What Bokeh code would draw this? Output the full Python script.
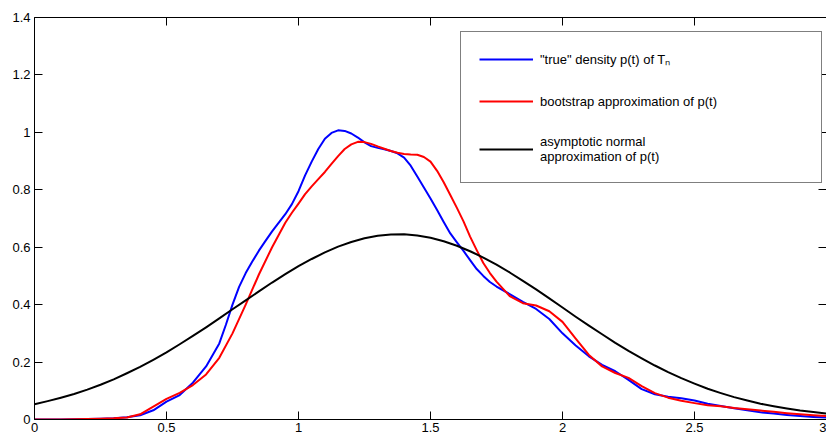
from bokeh.plotting import figure
from bokeh.models import (Legend, LegendItem, LinearAxis, FixedTicker,
                          CustomJSTickFormatter, Range1d, CustomLabelingPolicy)
from bokeh.embed import file_html
from bokeh.resources import INLINE

# ---- data ----
t_true = [0.00, 0.05, 0.10, 0.15, 0.20, 0.25, 0.30, 0.35, 0.40, 0.45,
          0.50, 0.55, 0.60, 0.65, 0.70, 0.725, 0.75, 0.775, 0.80, 0.825,
          0.85, 0.875, 0.90, 0.95,
          0.975, 1.00, 1.025, 1.05, 1.075, 1.10, 1.125, 1.15, 1.175, 1.20,
          1.225, 1.25, 1.275, 1.30, 1.325, 1.35, 1.375, 1.40, 1.425, 1.45,
          1.475, 1.50, 1.525, 1.55, 1.575, 1.60, 1.625, 1.65, 1.675, 1.70,
          1.725, 1.75, 1.80, 1.85, 1.90, 1.95, 2.00, 2.05, 2.10, 2.15,
          2.20, 2.25, 2.30, 2.35, 2.40, 2.45, 2.50, 2.55, 2.60, 2.65,
          2.70, 2.75, 2.80, 2.85, 2.90, 2.95, 3.00]
true_density = [0.000, 0.000, 0.000, 0.001, 0.002, 0.003, 0.004, 0.008, 0.015, 0.032,
                0.062, 0.085, 0.128, 0.185, 0.265, 0.330, 0.400, 0.462, 0.510, 0.550,
                0.588, 0.622, 0.655, 0.715,
                0.750, 0.795, 0.850, 0.898, 0.942, 0.978, 0.998, 1.007, 1.005, 0.996,
                0.982, 0.965, 0.952, 0.946, 0.941, 0.935, 0.927, 0.912, 0.884, 0.846,
                0.808, 0.770, 0.730, 0.688, 0.648, 0.617, 0.587, 0.555, 0.524, 0.500,
                0.479, 0.463, 0.437, 0.410, 0.385, 0.350, 0.300, 0.258, 0.220, 0.190,
                0.168, 0.138, 0.106, 0.088, 0.079, 0.074, 0.066, 0.055, 0.047, 0.039,
                0.032, 0.025, 0.021, 0.016, 0.012, 0.009, 0.007]

t_boot = [0.00, 0.05, 0.10, 0.15, 0.20, 0.25, 0.30, 0.35, 0.40, 0.45,
          0.50, 0.55, 0.60, 0.65, 0.70, 0.75, 0.80, 0.85, 0.90, 0.95,
          0.975, 1.00, 1.025, 1.05, 1.075, 1.10, 1.125, 1.15, 1.175, 1.20,
          1.225, 1.25, 1.275, 1.30, 1.325, 1.35, 1.375, 1.40, 1.425, 1.45,
          1.475, 1.50, 1.525, 1.55, 1.575, 1.60, 1.625, 1.65, 1.675, 1.70,
          1.725, 1.75, 1.80, 1.85, 1.90, 1.95, 2.00, 2.05, 2.10, 2.15,
          2.20, 2.25, 2.30, 2.35, 2.40, 2.45, 2.50, 2.55, 2.60, 2.65,
          2.70, 2.75, 2.80, 2.85, 2.90, 2.95, 3.00]
bootstrap = [0.000, 0.000, 0.000, 0.001, 0.002, 0.003, 0.004, 0.007, 0.018, 0.045,
             0.072, 0.093, 0.120, 0.157, 0.215, 0.300, 0.400, 0.505, 0.600, 0.685,
             0.720, 0.752, 0.785, 0.812, 0.837, 0.862, 0.890, 0.917, 0.942, 0.958,
             0.967, 0.966, 0.960, 0.951, 0.943, 0.935, 0.929, 0.925, 0.923, 0.922,
             0.914, 0.898, 0.866, 0.826, 0.782, 0.737, 0.690, 0.637, 0.590, 0.545,
             0.510, 0.480, 0.430, 0.405, 0.397, 0.377, 0.340, 0.282, 0.225, 0.185,
             0.162, 0.145, 0.116, 0.092, 0.076, 0.065, 0.057, 0.050, 0.046, 0.040,
             0.036, 0.031, 0.027, 0.022, 0.018, 0.015, 0.012]

t_normal = [0.00, 0.05, 0.10, 0.15, 0.20, 0.25, 0.30, 0.35, 0.40, 0.45,
            0.50, 0.55, 0.60, 0.65, 0.70, 0.75, 0.80, 0.85, 0.90, 0.95,
            1.00, 1.05, 1.10, 1.15, 1.20, 1.25, 1.30, 1.35, 1.40, 1.45,
            1.50, 1.55, 1.60, 1.65, 1.70, 1.75, 1.80, 1.85, 1.90, 1.95,
            2.00, 2.05, 2.10, 2.15, 2.20, 2.25, 2.30, 2.35, 2.40, 2.45,
            2.50, 2.55, 2.60, 2.65, 2.70, 2.75, 2.80, 2.85, 2.90, 2.95, 3.00]
normal_approx = [0.053, 0.064, 0.076, 0.089, 0.104, 0.121, 0.140, 0.161, 0.183, 0.208,
                 0.234, 0.262, 0.291, 0.321, 0.352, 0.384, 0.415, 0.446, 0.477, 0.506,
                 0.534, 0.559, 0.582, 0.602, 0.618, 0.631, 0.640, 0.644, 0.645, 0.641,
                 0.633, 0.621, 0.605, 0.586, 0.564, 0.539, 0.512, 0.483, 0.453, 0.422,
                 0.390, 0.358, 0.327, 0.297, 0.267, 0.239, 0.213, 0.188, 0.165, 0.144,
                 0.125, 0.107, 0.092, 0.078, 0.066, 0.055, 0.046, 0.038, 0.031, 0.026, 0.021]

x_ticks = [0, 0.5, 1, 1.5, 2, 2.5, 3]
y_ticks = [0, 0.2, 0.4, 0.6, 0.8, 1.0, 1.2, 1.4]

labels = ['"true" density p(t) of T\u2099',
          'bootstrap approximation of p(t)',
          'asymptotic normal\napproximation of p(t)']

FONT = "Liberation Sans"
FS = "13px"

p = figure(width=826, height=437, output_backend="svg", toolbar_location=None,
           x_range=Range1d(0, 3), y_range=Range1d(0, 1.4),
           min_border_left=34, min_border_right=0, min_border_top=17,
           min_border_bottom=18, x_axis_location=None, y_axis_location=None)
p.outline_line_color = None
p.background_fill_color = "white"
p.border_fill_color = "white"
p.xgrid.visible = False
p.ygrid.visible = False

fmt = CustomJSTickFormatter(code="return String(parseFloat(tick.toFixed(2)));")
no_labels = CustomLabelingPolicy(code="""
if (typeof indices.clear === 'function') { indices.clear(); return indices; }
for (const i of Array.from(indices)) { indices.unset(i); }
return indices;
""")


def style_axis(ax, ticks, show_labels, line=True):
    ax.ticker = FixedTicker(ticks=ticks)
    ax.formatter = fmt
    ax.major_tick_in = 8
    ax.major_tick_out = 0
    ax.minor_tick_in = 0
    ax.minor_tick_out = 0
    ax.major_tick_line_color = "black"
    ax.major_tick_line_width = 1
    ax.axis_line_color = "black" if line else None
    ax.axis_line_width = 1
    ax.major_label_text_font = FONT
    ax.major_label_text_color = "black"
    if show_labels:
        ax.major_label_text_font_size = FS
    else:
        ax.major_label_text_font_size = "0px"
        ax.major_label_standoff = 0
        ax.major_label_policy = no_labels


bottom = LinearAxis()
style_axis(bottom, x_ticks, True)
bottom.major_label_standoff = 3
p.add_layout(bottom, "below")

left = LinearAxis()
style_axis(left, y_ticks, True)
left.major_label_standoff = 4
p.add_layout(left, "left")

top = LinearAxis()
style_axis(top, x_ticks, False)
p.add_layout(top, "above")

right = LinearAxis()
style_axis(right, y_ticks, False, line=False)
p.add_layout(right, "right")

r_blue = p.line(t_true, true_density, line_color="#0000ff", line_width=2,
                line_join="round")
r_red = p.line(t_boot, bootstrap, line_color="#ff0000", line_width=2,
               line_join="round")
r_black = p.line(t_normal, normal_approx, line_color="black", line_width=2,
                 line_join="round")

legend = Legend(items=[LegendItem(label=labels[0], renderers=[r_blue]),
                       LegendItem(label=labels[1], renderers=[r_red]),
                       LegendItem(label=labels[2], renderers=[r_black])],
                location=(426, 236), orientation="vertical",
                border_line_color="black", border_line_width=1,
                background_fill_color="white", background_fill_alpha=1,
                label_text_font=FONT, label_text_font_size=FS,
                label_text_color="black",
                glyph_width=54, glyph_height=16, label_height=16,
                label_width=263, label_standoff=7, padding=18, spacing=25,
                margin=0)
p.add_layout(legend, "center")

open("out.html", "w").write(file_html(p, INLINE))
